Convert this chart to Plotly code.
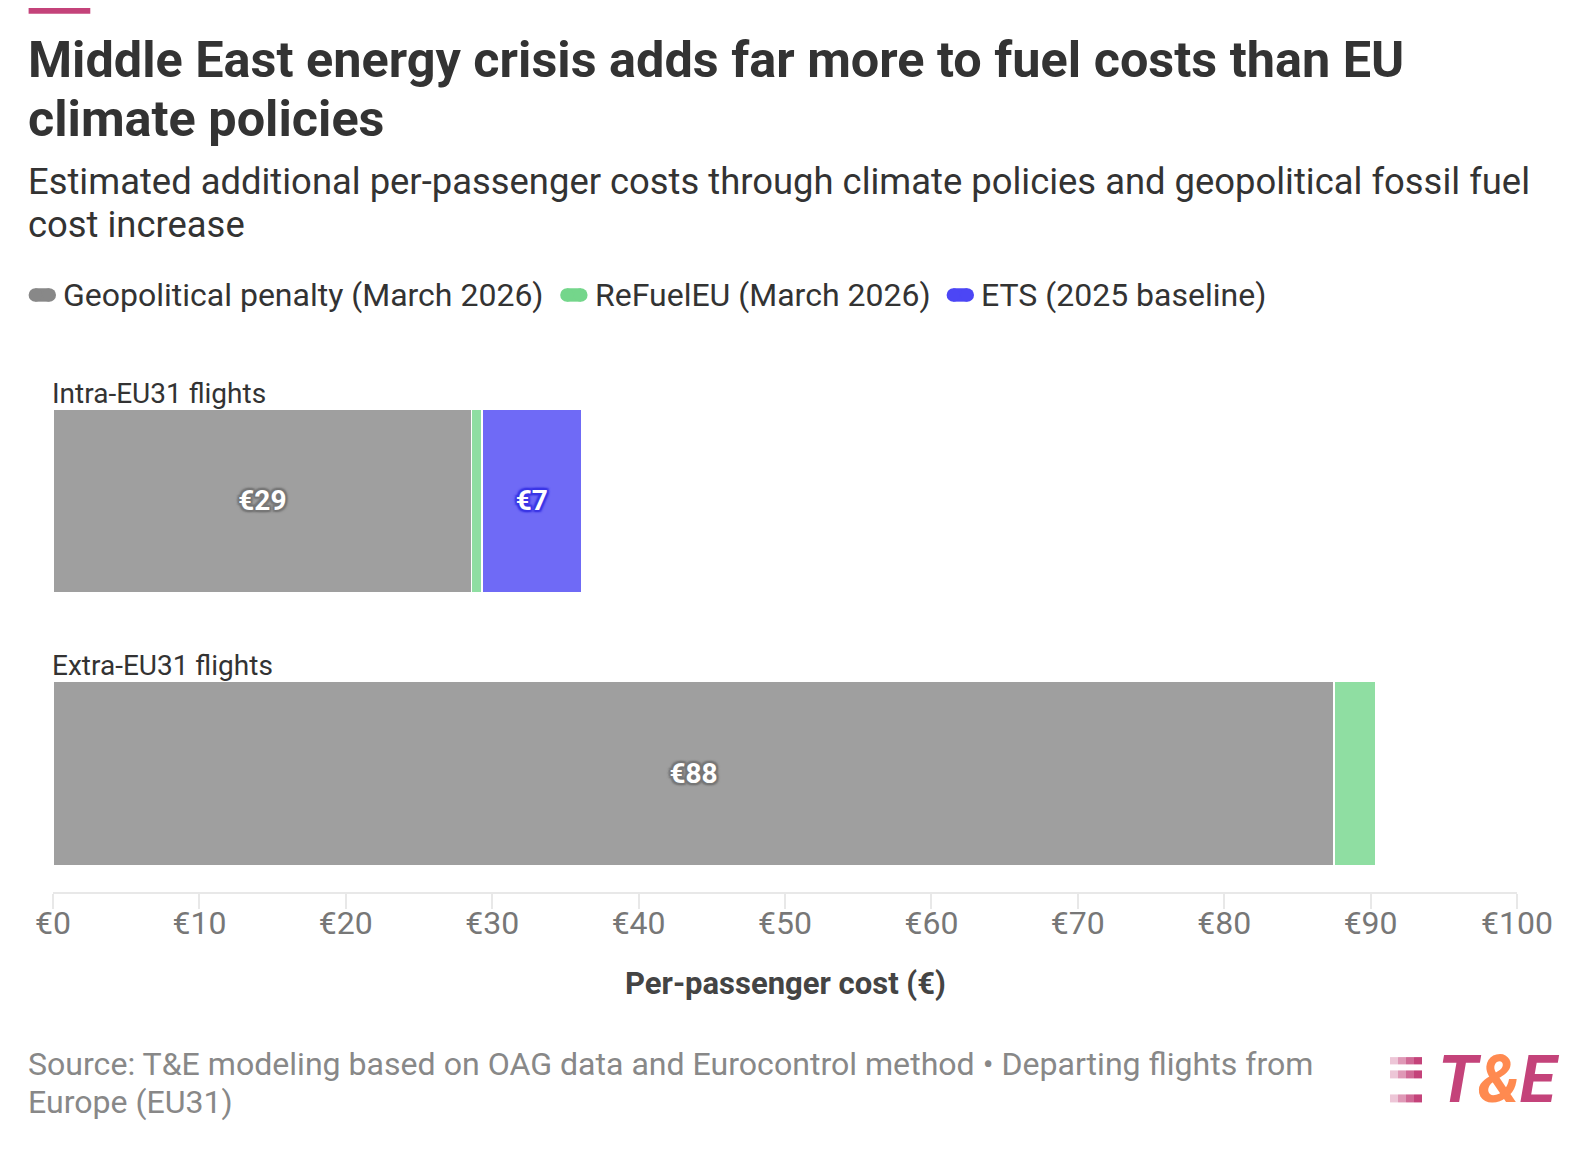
import plotly.graph_objects as go

# data
categories = ["Intra-EU31 flights", "Extra-EU31 flights"]
series_names = ["Geopolitical penalty (March 2026)", "ReFuelEU (March 2026)", "ETS (2025 baseline)"]
geo_penalty = [28.6, 87.5]
refuel_eu = [0.7, 2.85]
ets = [6.8, 0.0]
x_ticks = [0, 10, 20, 30, 40, 50, 60, 70, 80, 90, 100]
x_ticktext = [f"€{v}" for v in x_ticks]

title_lines = ["Middle East energy crisis adds far more to fuel costs than EU", "climate policies"]
subtitle_lines = ["Estimated additional per-passenger costs through climate policies and geopolitical fossil fuel",
                  "cost increase"]
source_lines = ["Source: T&E modeling based on OAG data and Eurocontrol method • Departing flights from",
                "Europe (EU31)"]

colors = ["#888888", "#74d68b", "#4c46f5"]
halo = ["#777777", "#6cc984", "#3b36e6"]

# page is offset by the body margin, so work in page pixels and convert
OFF = 8
W, H = 1572, 1134
L, R, T, B = 52.7, 1517, 370, 891.7   # plot area, page pixels


def px(x):
    return (x - L) / (R - L)


def py(y):
    return (B - y) / (B - T)


def text(x, y_top, s, size, color, bold=False, anchor="left"):
    fig.add_annotation(
        x=px(x), y=py(y_top), xref="paper", yref="paper",
        xanchor=anchor, yanchor="top", showarrow=False, align="left",
        text=f"<b>{s}</b>" if bold else s,
        font=dict(family="Roboto", size=size, color=color),
    )


fig = go.Figure()

for name, vals, col, hc in zip(series_names, [geo_penalty, refuel_eu, ets], colors, halo):
    labels = [f"€{v:.0f}" if v >= 5 else "" for v in vals]
    fig.add_trace(go.Bar(
        y=categories,
        x=vals,
        orientation="h",
        name=name,
        width=0.676,
        marker=dict(color=col, opacity=0.8, line=dict(color="white", width=1.5)),
        text=labels,
        textposition="inside",
        insidetextanchor="middle",
        textangle=0,
        textfont=dict(family="Roboto", size=28, color="white", weight="bold",
                      shadow=f"2px 0px 1px {hc}, -2px 0px 1px {hc}, 0px 2px 1px {hc}, 0px -2px 1px {hc}, "
                             f"2px 2px 2px {hc}, -2px -2px 2px {hc}, 2px -2px 2px {hc}, -2px 2px 2px {hc}"),
        showlegend=False,
        hoverinfo="skip",
    ))

# category labels above each bar
for cat in categories:
    fig.add_annotation(
        x=0, y=cat, xref="x", yref="y", text=cat, showarrow=False,
        xanchor="left", yanchor="bottom", yshift=89, xshift=-3,
        font=dict(family="Roboto", size=28, color="#333333"),
    )

# custom legend: pill swatch + label
legend_x = [28.3, 560, 946.5]
sw_w, sw_h, leg_y = 27.4, 13.4, 295
for name, col, x0 in zip(series_names, colors, legend_x):
    r = sw_h / 2
    fig.add_shape(type="rect", xref="paper", yref="paper",
                  x0=px(x0 + r), x1=px(x0 + sw_w - r), y0=py(leg_y + r), y1=py(leg_y - r),
                  fillcolor=col, line=dict(width=0))
    for cx in (x0 + r, x0 + sw_w - r):
        fig.add_shape(type="circle", xref="paper", yref="paper",
                      x0=px(cx - r), x1=px(cx + r), y0=py(leg_y + r), y1=py(leg_y - r),
                      fillcolor=col, line=dict(width=0))
    fig.add_annotation(
        x=px(x0 + sw_w + 5), y=py(leg_y), xref="paper", yref="paper",
        xanchor="left", yanchor="middle", text=name, showarrow=False,
        font=dict(family="Roboto", size=32, color="#333333"),
    )

# titles
text(26, 76 - 48, title_lines[0], 50.4, "#333333", bold=True)
text(26, 134 - 47, title_lines[1], 50.4, "#333333", bold=True)
text(26, 192.7 - 35, subtitle_lines[0], 36.4, "#333333")
text(26, 235 - 34, subtitle_lines[1], 36.4, "#333333")

# axis title
text((L + R) / 2, 995 - 32, "Per-passenger cost (€)", 31, "#444444", bold=True, anchor="center")

# source
text(26, 1076 - 33, source_lines[0], 32.1, "#888888")
text(26, 1113.3 - 33, source_lines[1], 32.1, "#888888")

# logo
fig.add_annotation(
    x=px(1435.5), y=py(1079.4), xref="paper", yref="paper", xanchor="left", yanchor="middle",
    text="<b><i><span style='color:#c4437a'>T</span><span style='color:#ff8a50'>&amp;</span>"
         "<span style='color:#c4437a'>E</span></i></b>",
    showarrow=False,
    font=dict(family="Roboto", size=66, color="#c4437a"),
)
for y0, y1 in [(1056.7, 1064), (1070, 1078), (1094, 1102)]:
    for i, op in enumerate([0.3, 0.55, 0.8, 1.0]):
        fig.add_shape(
            type="rect", xref="paper", yref="paper",
            x0=px(1390 + i * 8), x1=px(1398 + i * 8), y0=py(y1), y1=py(y0),
            fillcolor="#c4437a", opacity=op, line=dict(width=0), layer="above",
        )

# top accent bar
fig.add_shape(
    type="rect", xref="paper", yref="paper",
    x0=px(28.3), x1=px(90), y0=py(14), y1=py(-OFF),
    fillcolor="#c4437a", line=dict(width=0),
)

fig.update_layout(
    width=W, height=H,
    margin=dict(l=L - OFF, r=W - (R - OFF), t=T - OFF, b=H - (B - OFF), pad=0),
    paper_bgcolor="white", plot_bgcolor="white",
    barmode="stack",
    font=dict(family="Roboto", color="#333333"),
    showlegend=False,
    xaxis=dict(
        range=[0, 100], tickmode="array", tickvals=x_ticks, ticktext=x_ticktext,
        showline=True, linecolor="#e8e8e8", linewidth=2,
        ticks="outside", ticklen=15, tickwidth=2, tickcolor="#e8e8e8",
        ticklabelstandoff=-13,
        showgrid=False, zeroline=False,
        tickfont=dict(family="Roboto", size=32, color="#777777"),
        fixedrange=True,
    ),
    yaxis=dict(
        type="category", categoryarray=categories,
        range=[1.436, -0.4805], showticklabels=False,
        showgrid=False, zeroline=False, showline=False, fixedrange=True,
    ),
)

fig.write_html("out.html")
